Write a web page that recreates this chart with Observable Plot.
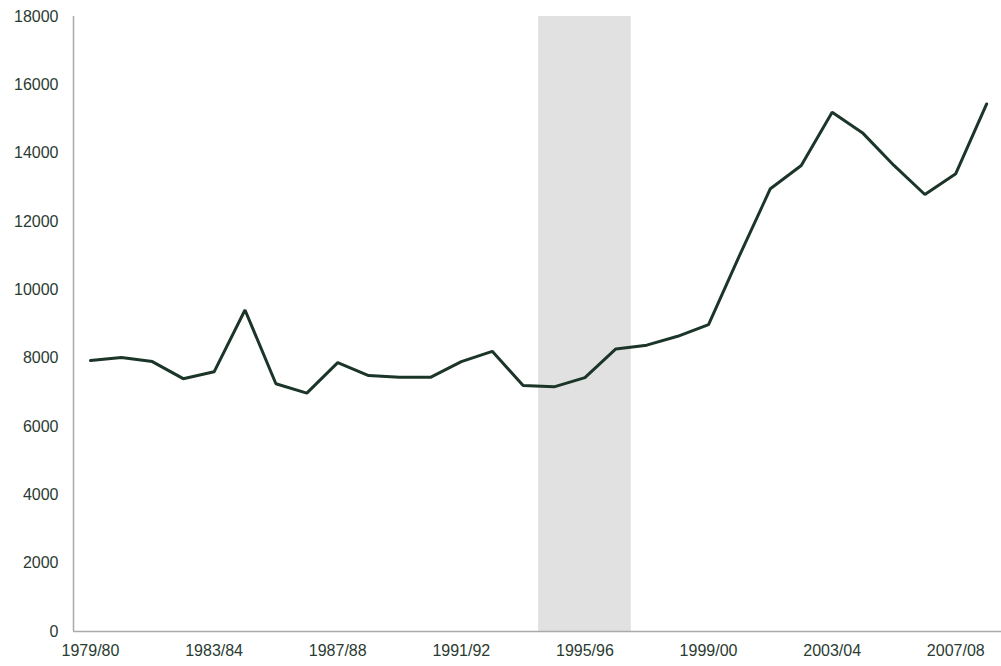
<!DOCTYPE html>
<html><head><meta charset="utf-8">
<script src="https://cdn.jsdelivr.net/npm/d3@7"></script>
<script src="https://cdn.jsdelivr.net/npm/@observablehq/plot@0.6"></script>
<style>body{margin:0;background:#fff;} svg{display:block;}</style>
</head><body><div id="chart"></div>
<script>
const years = ["1979/80","1980/81","1981/82","1982/83","1983/84","1984/85","1985/86","1986/87","1987/88","1988/89","1989/90","1990/91","1991/92","1992/93","1993/94","1994/95","1995/96","1996/97","1997/98","1998/99","1999/00","2000/01","2001/02","2002/03","2003/04","2004/05","2005/06","2006/07","2007/08","2008/09"];
const values = [7930,8020,7900,7400,7600,9410,7250,6975,7870,7490,7440,7440,7900,8200,7200,7160,7430,8270,8380,8640,8980,11000,12960,13640,15200,14580,13640,12790,13400,15440];
const yTicks = [0,2000,4000,6000,8000,10000,12000,14000,16000,18000];
const xTickYears = ["1979/80","1983/84","1987/88","1991/92","1995/96","1999/00","2003/04","2007/08"];
const shadeFrom = "1994/95", shadeTo = "1996/97";

const data = years.map((y,i)=>({i, year:y, value:values[i]}));
const idx = y => years.indexOf(y);
const shade = [{x1: idx(shadeFrom)-0.5, x2: idx(shadeTo)+0.5}];
const textColor = "#2a3b32";

const chart = Plot.plot({
  width: 1001, height: 666,
  marginLeft: 73, marginRight: 0, marginTop: 16, marginBottom: 35,
  style: {fontFamily: "'Liberation Sans', Arial, sans-serif", fontSize: "16px", color: textColor, background: "#fff"},
  x: {domain: [-0.55, 29.48], label: null},
  y: {domain: [0, 18000], label: null},
  marks: [
    Plot.rectY(shade, {x1: "x1", x2: "x2", y1: 0, y2: 18000, fill: "#e1e1e1"}),
    Plot.ruleX([-0.55], {stroke: "#aaa", strokeWidth: 1.5}),
    Plot.ruleY([0], {stroke: "#aaa", strokeWidth: 1.5}),
    Plot.line(data, {x: "i", y: "value", stroke: "#1c3529", strokeWidth: 3, strokeLinejoin: "miter"}),
    Plot.axisX({ticks: xTickYears.map(idx), tickFormat: i => years[i], tickSize: 0, tickPadding: 13, fill: textColor, fontSize: 16}),
    Plot.axisY({ticks: yTicks, tickFormat: d => String(d), tickSize: 0, tickPadding: 15, fill: textColor, fontSize: 16})
  ]
});
document.getElementById("chart").appendChild(chart);
</script></body></html>
